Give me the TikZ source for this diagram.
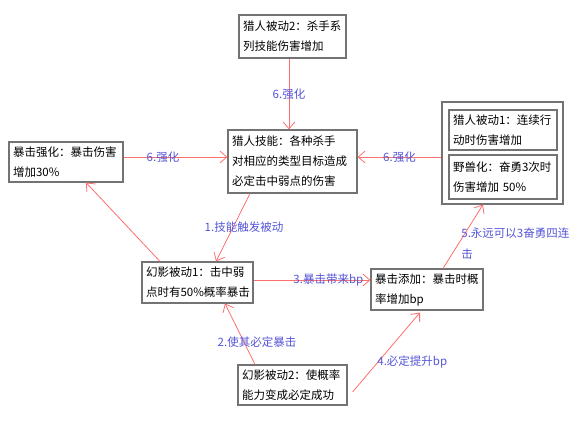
\documentclass[tikz,border=0pt]{standalone}
\usepackage{fontspec}
\setmainfont{Noto Sans CJK SC}
\usetikzlibrary{arrows.meta,calc}
\definecolor{arr}{RGB}{255,110,110}
\definecolor{lab}{RGB}{85,85,215}
\definecolor{bord}{RGB}{115,115,115}
\begin{document}
\begin{tikzpicture}[x=1pt,y=-1pt,
  box/.style={draw=bord, line width=1.1pt, fill=white, inner xsep=4pt, inner ysep=0pt,
    align=left, font=\fontsize{11.5}{20}\selectfont, anchor=center},
  conn/.style={draw=arr, line width=0.8pt, -{Straight Barb[length=7pt,width=12pt]}},
  lbl/.style={text=lab, font=\fontsize{11.5}{21}\selectfont, inner sep=0pt}]
\useasboundingbox (0,0) rectangle (580,420);

\node[box, minimum width=107pt, minimum height=43pt, text width=99pt] (t) at (292.5,36.5)
  {猎人被动2：杀手系\\列技能伤害增加};
\node[box, minimum width=114pt, minimum height=40pt, text width=106pt] (l) at (66,162)
  {暴击强化：暴击伤害\\增加30\%};
\node[box, minimum width=129pt, minimum height=63pt, text width=121pt] (c) at (292.5,161.5)
  {猎人技能：各种杀手\\对相应的类型目标造成\\必定击中弱点的伤害};
\node[box, minimum width=121pt, minimum height=102pt] (r) at (502.5,153) {};
\node[box, minimum width=108pt, minimum height=40pt, text width=100pt] (r1) at (503,130)
  {猎人被动1：连续行\\动时伤害增加};
\node[box, minimum width=108pt, minimum height=44pt, text width=100pt] (r2) at (503,177)
  {野兽化：奋勇3次时\\伤害增加 50\%};
\node[box, minimum width=111pt, minimum height=41pt, text width=103pt] (p1) at (197.5,282.5)
  {幻影被动1：击中弱\\点时有50\%概率暴击};
\node[box, minimum width=112pt, minimum height=41pt, text width=104pt] (a) at (427,289.5)
  {暴击添加：暴击时概\\率增加bp};
\node[box, minimum width=109pt, minimum height=40pt, text width=101pt] (p2) at (292.5,385)
  {幻影被动2：使概率\\能力变成必定成功};

\draw[conn] ([xshift=-3.5pt]t.south) -- node[lbl]{6.强化} ([xshift=-3.5pt]c.north);
\draw[conn] ([yshift=5pt]l.east) -- node[lbl, pos=0.38]{6.强化} ([yshift=4.5pt]c.west);
\draw[conn] ([yshift=-4pt]r.west) -- node[lbl, pos=0.5]{6.强化} ([yshift=4.5pt]c.east);
\draw[conn] ([xshift=-42.5pt]c.south) -- node[lbl, xshift=11pt]{1.技能触发被动} ([xshift=18.5pt]p1.north);
\draw[conn] ([xshift=-37.5pt]p1.north) -- ([xshift=20pt]l.south);
\draw[conn] ([yshift=2.5pt]p1.east) -- node[lbl, pos=0.64]{3.暴击带来bp} ([yshift=9.5pt]a.west);
\draw[conn] ([xshift=-37.5pt]p2.north) -- node[lbl, xshift=17pt, yshift=-8pt]{2.使其必定暴击} ([xshift=27.5pt]p1.south);
\draw[conn] ([xshift=5pt,yshift=-7pt]p2.east) -- node[lbl, xshift=26pt, yshift=-10pt]{4.必定提升bp} ([xshift=-7pt,yshift=-2pt]a.south);
\draw[conn] ([xshift=16pt]a.north) -- node[lbl, anchor=west, align=left, xshift=-2pt, yshift=-7pt]{5.永远可以3奋勇四连\\击} ([xshift=-19.5pt]r.south);
\end{tikzpicture}
\end{document}
